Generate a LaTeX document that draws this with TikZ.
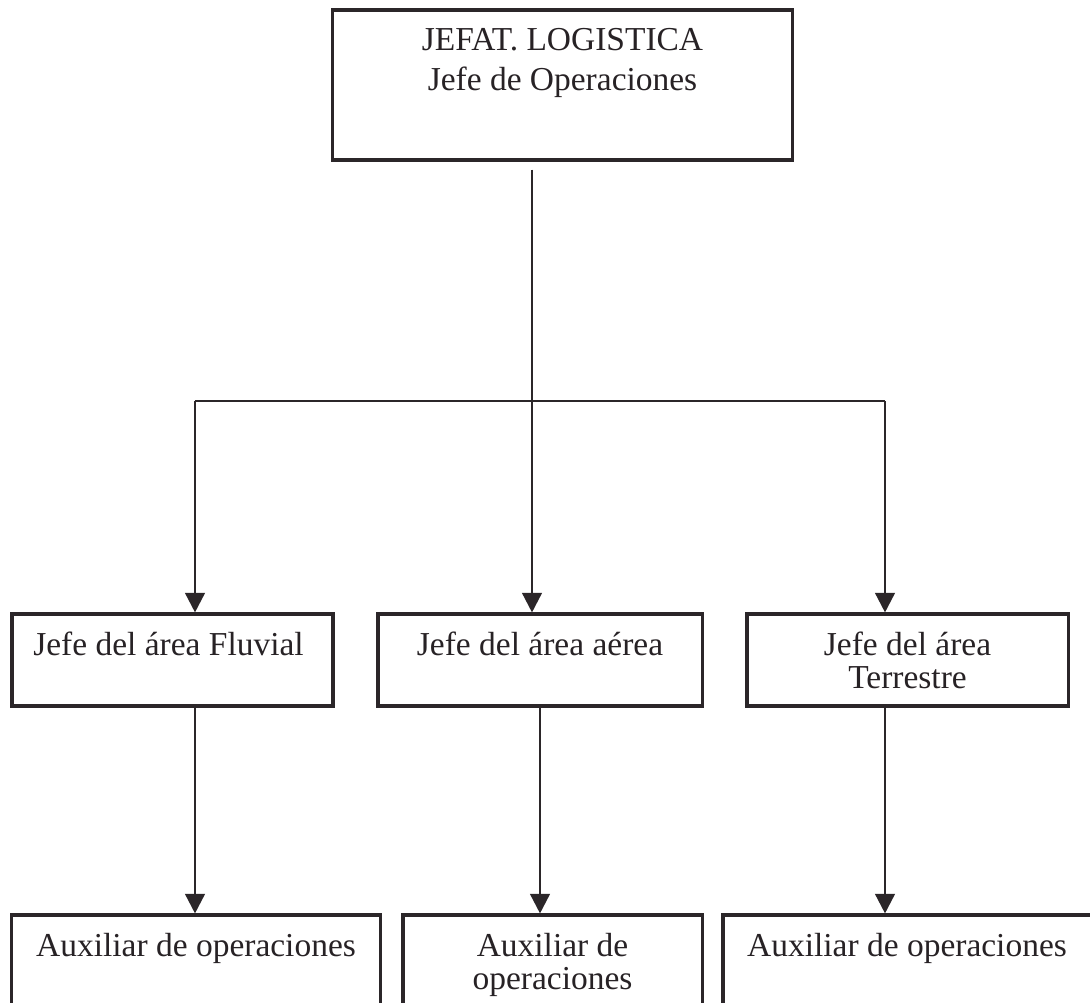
\documentclass[tikz,border=0pt]{standalone}
\usepackage{fontspec}
\setmainfont{Liberation Serif}
\usetikzlibrary{arrows.meta,positioning,calc}
\definecolor{ink}{HTML}{2B2629}

\tikzset{
  box/.style={draw=ink, line width=2.2pt, inner sep=0pt},
  boxtext/.style={text=ink!90!black, inner sep=0pt, anchor=base, align=center,
                  font=\fontsize{23.8}{23.6}\selectfont},
  link/.style={draw=ink, line width=1.8pt},
  arrowlink/.style={link, -{Triangle[width=14pt,length=14pt]}}
}

\begin{document}
\begin{tikzpicture}[x=0.025cm, y=-0.025cm]
\useasboundingbox (0,0) rectangle (1090,1002);
\clip (0,0) rectangle (1090,1002);

%boxes
\node[box, minimum width=11.475cm, minimum height=3.75cm] (jefat) at (562.5,85) {};
\node[box, minimum width=8.025cm, minimum height=2.3cm] (fluvial) at (172.5,660) {};
\node[box, minimum width=8.1cm, minimum height=2.3cm] (aerea) at (540,660) {};
\node[box, minimum width=8.025cm, minimum height=2.3cm] (terrestre) at (907.5,660) {};
\node[box, minimum width=9.2cm, minimum height=2.5cm] (auxA) at (196,965) {};
\node[box, minimum width=7.475cm, minimum height=2.5cm] (auxB) at (552.5,965) {};
\node[box, minimum width=9.2cm, minimum height=2.5cm] (auxC) at (907,965) {};

%texts (base = last line)
\node[boxtext, font=\fontsize{23.8}{28.4}\selectfont] (jefattext) at ($(jefat.north)+(0,82)$) {JEFAT. LOGISTICA\\Jefe de Operaciones};
\node[boxtext] (fluvialtext) at ($(fluvial.north)+(-4,43)$) {Jefe del área Fluvial};
\node[boxtext] (aereatext) at ($(aerea.north)+(0,43)$) {Jefe del área aérea};
\node[boxtext] (terrestretext) at ($(terrestre.north)+(0,76)$) {Jefe del área\\Terrestre};
\node[boxtext] (auxAtext) at ($(auxA.north)+(0,43)$) {Auxiliar de operaciones};
\node[boxtext] (auxBtext) at ($(auxB.north)+(0,76)$) {Auxiliar de\\operaciones};
\node[boxtext] (auxCtext) at ($(auxC.north)+(0,43)$) {Auxiliar de operaciones};

%split points
\coordinate (split) at (532,401);
\coordinate (bendL) at (195,401);
\coordinate (bendR) at (885,401);

%from the head down to the areas
\draw[link] (jefat.south -| split) ++(0,8) -- (split);
\draw[link] (bendL) -- (bendR);
\draw[arrowlink] (bendL) -- (bendL |- fluvial.north);
\draw[arrowlink] (split) -- (split |- aerea.north);
\draw[arrowlink] (bendR) -- (bendR |- terrestre.north);

%from the areas down to the auxiliaries
\draw[arrowlink] (bendL |- fluvial.south) -- (bendL |- auxA.north);
\draw[arrowlink] (aerea.south) -- (aerea.south |- auxB.north);
\draw[arrowlink] (bendR |- terrestre.south) -- (bendR |- auxC.north);

\end{tikzpicture}
\end{document}
